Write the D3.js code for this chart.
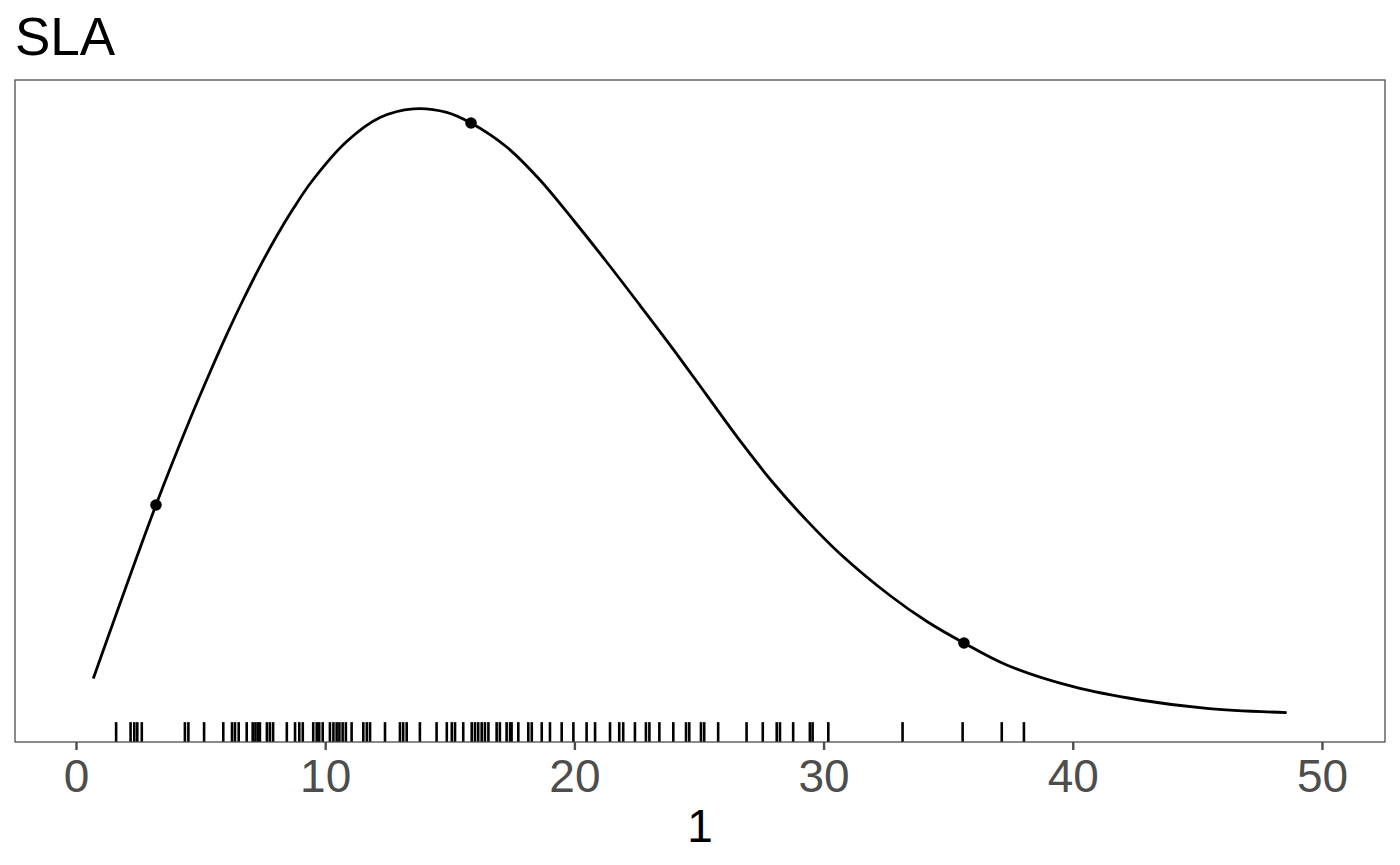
<!DOCTYPE html>
<html>
<head>
<meta charset="utf-8">
<script src="https://cdn.jsdelivr.net/npm/d3@7"></script>
<style>
  html, body { margin: 0; padding: 0; background: #fff; }
  svg { display: block; font-family: "Liberation Sans", Arial, sans-serif; }
</style>
</head>
<body>
<svg id="chart" width="1400" height="865"></svg>
<script>
// ---- data ----
const title = "SLA";
const xTitle = "1";
const xTicks = [0, 10, 20, 30, 40, 50];

// smooth density-like curve
const curveX = [0.694, 3.210, 4.575, 5.377, 6.047, 6.713, 7.384, 8.054, 8.720, 9.458, 10.863,
                12.199, 13.535, 14.876, 15.851, 17.283, 18.620, 19.956, 21.296, 22.632, 23.969,
                25.309, 26.645, 27.982, 29.322, 30.658, 32.665, 34.149, 35.634, 37.348, 40.020,
                42.697, 45.373, 48.584];
const curveY = [0.00635, 0.0237, 0.03227, 0.03697, 0.04073, 0.04425, 0.04756, 0.0506, 0.05334,
                0.05605, 0.06005, 0.06245, 0.06332, 0.06297, 0.0619, 0.0595, 0.0562, 0.0522,
                0.048, 0.04367, 0.03927, 0.03469, 0.03013, 0.0259, 0.02216, 0.01883, 0.01465,
                0.01205, 0.0099, 0.0077, 0.00553, 0.0042, 0.00337, 0.00293];

// highlighted points on the curve
const pointX = [3.210, 15.851, 35.634];
const pointY = [0.0237, 0.0619, 0.0099];

// rug observations
const rugX = [1.61, 2.19, 2.34, 2.46, 2.64, 4.37, 4.51, 5.14, 5.91, 6.26, 6.38, 6.53, 6.85,
              7.09, 7.20, 7.30, 7.38, 7.66, 7.78, 7.91, 8.46, 8.79, 8.96, 9.10, 9.52, 9.66,
              9.76, 9.90, 10.19, 10.33, 10.46, 10.57, 10.70, 10.83, 11.06, 11.53, 11.67, 11.80,
              12.40, 13.00, 13.13, 13.27, 13.80, 14.47, 14.88, 15.08, 15.21, 15.54, 15.88,
              16.01, 16.14, 16.28, 16.41, 16.55, 16.88, 17.01, 17.28, 17.42, 17.48, 17.75,
              18.15, 18.29, 18.69, 19.02, 19.49, 19.96, 20.49, 20.83, 21.43, 21.80, 21.96,
              22.43, 22.87, 23.01, 23.41, 23.97, 24.48, 24.61, 25.08, 25.21, 25.77, 26.91,
              27.56, 28.12, 28.25, 28.78, 29.45, 29.56, 30.19, 33.17, 35.58, 37.15, 38.04];

// ---- layout ----
const svg = d3.select("#chart");
const panel = { left: 15, right: 1385, top: 80, bottom: 742 };

const x = d3.scaleLinear().domain([-2.448, 52.53]).range([panel.left, panel.right]);
const y = d3.scaleLinear().domain([0, 0.0662]).range([panel.bottom, panel.top]);

// background
svg.append("rect").attr("x", 0).attr("y", 0).attr("width", 1400).attr("height", 865).attr("fill", "#fff");

// title
svg.append("text")
  .attr("x", 15).attr("y", 55)
  .attr("font-size", 53).attr("fill", "#000")
  .text(title);

// clip for panel
svg.append("clipPath").attr("id", "clip")
  .append("rect")
  .attr("x", panel.left).attr("y", panel.top)
  .attr("width", panel.right - panel.left).attr("height", panel.bottom - panel.top);

const g = svg.append("g").attr("clip-path", "url(#clip)");

// rug
const rugLen = 0.03 * (panel.bottom - panel.top);
g.selectAll("line.rug").data(rugX).enter().append("line")
  .attr("class", "rug")
  .attr("x1", d => x(d)).attr("x2", d => x(d))
  .attr("y1", panel.bottom).attr("y2", panel.bottom - rugLen)
  .attr("stroke", "#000").attr("stroke-width", 2.6);

// curve
const line = d3.line()
  .x((d, i) => x(curveX[i]))
  .y((d, i) => y(curveY[i]))
  .curve(d3.curveCatmullRom.alpha(0.5));
g.append("path")
  .datum(curveX)
  .attr("d", line)
  .attr("fill", "none")
  .attr("stroke", "#000")
  .attr("stroke-width", 2.8);

// points
g.selectAll("circle.pt").data(pointX).enter().append("circle")
  .attr("class", "pt")
  .attr("cx", d => x(d))
  .attr("cy", (d, i) => y(pointY[i]))
  .attr("r", 5.8)
  .attr("fill", "#000");

// panel border
svg.append("rect")
  .attr("x", panel.left).attr("y", panel.top)
  .attr("width", panel.right - panel.left).attr("height", panel.bottom - panel.top)
  .attr("fill", "none").attr("stroke", "#4D4D4D").attr("stroke-width", 1.3);

// x axis
const xAxis = d3.axisBottom(x).tickValues(xTicks).tickSize(8).tickPadding(6).tickFormat(d3.format("d"));
const ax = svg.append("g").attr("transform", `translate(0,${panel.bottom})`).call(xAxis);
ax.select(".domain").remove();
ax.selectAll(".tick line").attr("stroke", "#4D4D4D").attr("stroke-width", 2.4);
ax.selectAll(".tick text")
  .attr("fill", "#4D4D4D")
  .attr("font-size", 46)
  .attr("font-family", "Liberation Sans, Arial, sans-serif")
  .attr("dy", null)
  .attr("y", 50);

// x axis title
svg.append("text")
  .attr("x", (panel.left + panel.right) / 2).attr("y", 842)
  .attr("text-anchor", "middle")
  .attr("font-size", 46).attr("fill", "#000")
  .text(xTitle);
</script>
</body>
</html>
